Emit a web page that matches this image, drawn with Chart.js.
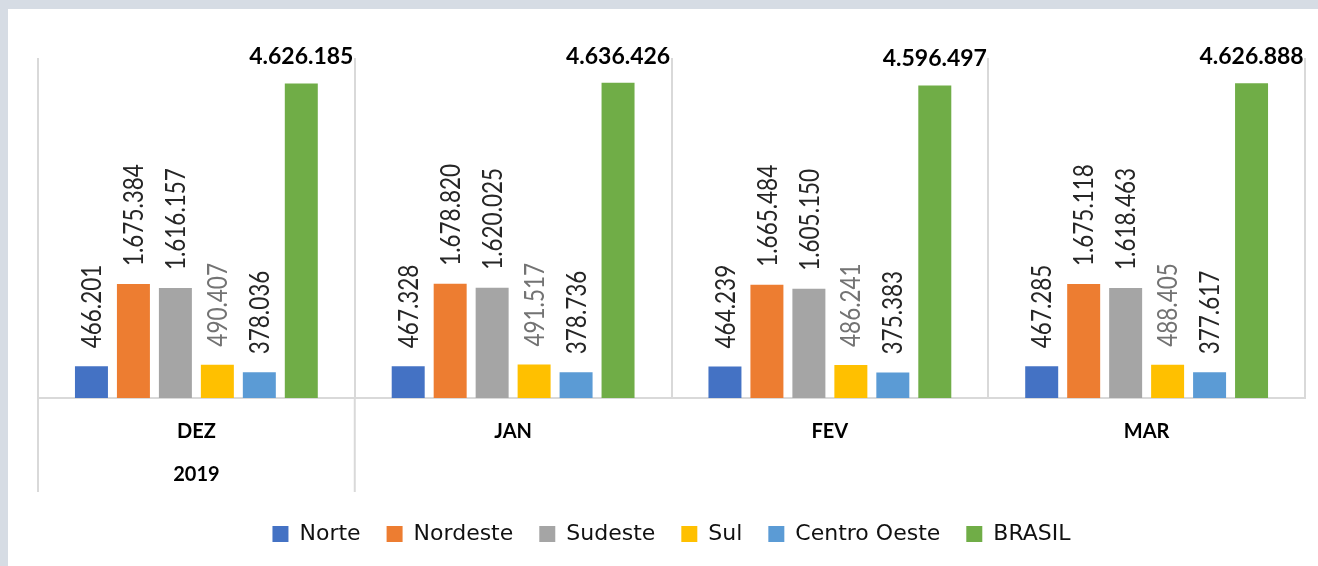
<!DOCTYPE html>
<html>
<head>
<meta charset="utf-8">
<script src="https://cdn.jsdelivr.net/npm/chart.js@4"></script>
<style>
  html, body { margin: 0; padding: 0; background: #d6dce4; overflow: hidden; }
  #box { position: absolute; left: 8px; top: 9px; width: 1310px; height: 557px; background: #fff; }
  canvas { display: block; }
</style>
</head>
<body>
<div id="box"><canvas id="grafica" width="1310" height="557"></canvas></div>
<script>
// dades per regió
const meses = [['DEZ', '2019'], 'JAN', 'FEV', 'MAR'];
const regioes = ['Norte', 'Nordeste', 'Sudeste', 'Sul', 'Centro Oeste', 'BRASIL'];
const norte = [466201, 467328, 464239, 467285];
const nordeste = [1675384, 1678820, 1665484, 1675118];
const sudeste = [1616157, 1620025, 1605150, 1618463];
const sul = [490407, 491517, 486241, 488405];
const centroOeste = [378036, 378736, 375383, 377617];
const brasil = [4626185, 4636426, 4596497, 4626888];
const cores = ['#4472C4', '#ED7D31', '#A5A5A5', '#FFC000', '#5B9BD5', '#70AD47'];

const series = [norte, nordeste, sudeste, sul, centroOeste, brasil];
const gridColor = '#d9d9d9';

function fmt(v) {
    return String(v).replace(/\B(?=(\d{3})+(?!\d))/g, '.');
}

// etiquetes sobre les barres
const etiquetes = {
    id: 'etiquetes',
    afterDatasetsDraw(chart) {
        const ctx = chart.ctx;
        chart.data.datasets.forEach((ds, i) => {
            const meta = chart.getDatasetMeta(i);
            meta.data.forEach((bar, j) => {
                const txt = fmt(ds.data[j]);
                ctx.save();
                if (i === chart.data.datasets.length - 1) {
                    ctx.font = 'bold 23px Lato';
                    ctx.fillStyle = '#000';
                    ctx.textAlign = 'center';
                    ctx.textBaseline = 'alphabetic';
                    ctx.fillText(txt, bar.x, bar.y - 19);
                } else {
                    ctx.font = '22.5px Lato';
                    ctx.fillStyle = i === 3 ? '#737373' : '#262626';
                    ctx.translate(bar.x + 1, bar.y - 18);
                    ctx.scale(1.19, 1);
                    ctx.rotate(-Math.PI / 2);
                    ctx.textAlign = 'left';
                    ctx.textBaseline = 'middle';
                    ctx.fillText(txt, 0, 0);
                }
                ctx.restore();
            });
        });
    },
    afterDraw(chart) {
        // linies del grup 2019 sota l'eix
        const x = chart.scales.x;
        const half = (x.getPixelForValue(1) - x.getPixelForValue(0)) / 2;
        const ctx = chart.ctx;
        ctx.save();
        ctx.strokeStyle = gridColor;
        ctx.lineWidth = 2;
        [x.getPixelForValue(0) - half, x.getPixelForValue(0) + half].forEach(px => {
            ctx.beginPath();
            ctx.moveTo(px, chart.chartArea.bottom);
            ctx.lineTo(px, 483);
            ctx.stroke();
        });
        ctx.restore();
    }
};

Chart.defaults.font.family = 'Lato';

const data = {
    labels: meses,
    datasets: regioes.map((r, i) => ({
        label: r,
        data: series[i],
        backgroundColor: cores[i],
        categoryPercentage: 0.795,
        barPercentage: 0.786
    }))
};

const config = {
    type: 'bar',
    data: data,
    options: {
        responsive: false,
        animation: false,
        layout: { padding: { left: 30, right: 13, top: 49, bottom: 11 } },
        plugins: {
            legend: {
                position: 'bottom',
                labels: {
                    boxWidth: 16,
                    boxHeight: 16,
                    padding: 26,
                    color: '#111',
                    font: { family: 'DejaVu Sans', size: 22 }
                }
            },
            tooltip: { enabled: false }
        },
        scales: {
            y: { display: false, min: 0, max: 5000000 },
            x: {
                grid: { color: gridColor, lineWidth: 2, drawTicks: false },
                border: { color: gridColor, width: 2 },
                ticks: {
                    padding: 12,
                    color: '#000',
                    maxRotation: 0,
                    font: { weight: 'bold', size: 20, lineHeight: '43px' }
                },
                afterFit(scale) { scale.height = 99; }
            }
        }
    },
    plugins: [etiquetes]
};

new Chart(document.querySelector('#grafica'), config);
</script>
</body>
</html>
